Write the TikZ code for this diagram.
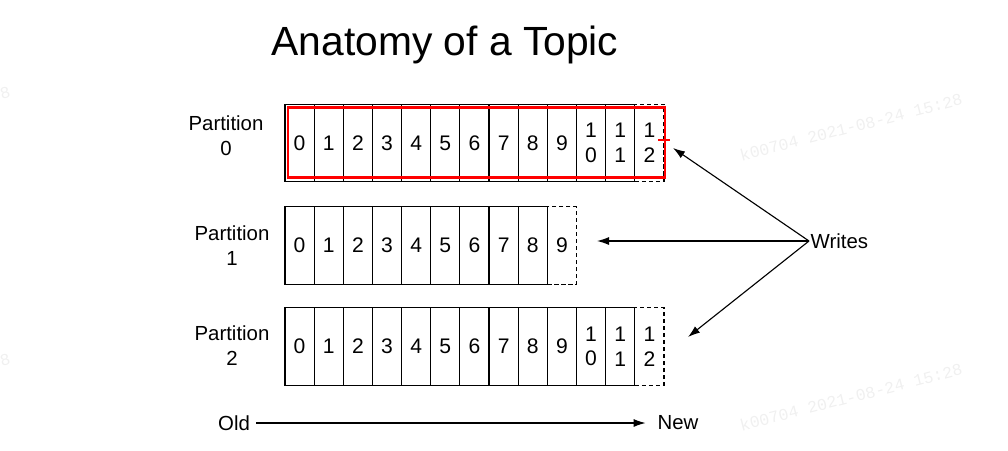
\documentclass[tikz,border=0pt]{standalone}
\usepackage{fontspec}
\setmainfont{Liberation Sans}
\newfontfamily\stampfont{Liberation Mono}
\usetikzlibrary{arrows.meta,positioning,calc}

\begin{document}
\begin{tikzpicture}[
  x=0.025cm, y=-0.025cm,
  cell/.style={draw, line width=0.8pt, minimum width=0.729cm, minimum height=1.93cm,
    inner sep=0pt, outer sep=0pt, align=center, font=\fontsize{15}{17.5}\selectfont},
  nextcell/.style={cell, dash pattern=on 3pt off 2pt},
  lab/.style={font=\fontsize{14.5}{17.8}\selectfont, align=center},
  arrow/.style={-{Latex[length=3mm,width=2mm]}, line width=0.8pt},
  redbox/.style={draw=red, line width=2pt},
  stamp/.style={text=black!6, rotate=14.5, font=\stampfont\fontsize{11.8}{12}\selectfont}
]
\useasboundingbox (0,0) rectangle (1008,450);

% faint stamps
\node[stamp] (stamp1) at (851,127) {k00704 2021-08-24 15:28};
\node[stamp] (stamp2) at (851,397) {k00704 2021-08-24 15:28};
\node[stamp, inner sep=0pt] (stamp3) at (5,93) {8};
\node[stamp, inner sep=0pt] (stamp4) at (5,360) {8};

\node[font=\fontsize{29}{34}\selectfont] (title) at (445,45) {Anatomy of a Topic};

% partitions: row / centre y / index of the next (dashed) cell
\foreach \r/\y/\n in {0/143/12,1/245.5/9,2/346.5/12} {
  \foreach \i in {0,...,\n} {
    \pgfmathtruncatemacro\lo{mod(\i,10)}
    \ifnum\i>9 \def\txt{1\\\lo}\else\edef\txt{\i}\fi
    \ifnum\i=\n
      \node[nextcell] (p\r c\i) at ({285+29.15*(\i+0.5)},\y) {\txt};
    \else
      \node[cell] (p\r c\i) at ({285+29.15*(\i+0.5)},\y) {\txt};
    \fi
  }
}
\node[lab] (part0) at (226,135.5) {Partition\\0};
\node[lab] (part1) at (232,245.5) {Partition\\1};
\node[lab] (part2) at (232,346) {Partition\\2};

% highlight on partition 0
\draw[redbox] ($(p0c0.north west)+(3,3)$) rectangle ($(p0c12.south east)+(1,-4)$);
\draw[red, line width=1.2pt] ($(p0c12.east)+(-6,-3)$) -- ++(12,0);

% writes
\node[lab, anchor=west, inner sep=1pt] (writes) at (809,241) {Writes};
\coordinate (w0) at (673,148);
\coordinate (w1) at (597,241);
\coordinate (w2) at (688,337);
\draw[arrow] (writes.west) -- (w0);
\draw[arrow] (writes.west) -- (w1);
\draw[arrow] (writes.west) -- (w2);

% time axis
\node[lab] (old) at (234,423) {Old};
\node[lab] (new) at (678,423) {New};
\draw[arrow, shorten <=1pt, shorten >=5pt] (old.east) -- (new.west);
\end{tikzpicture}
\end{document}
